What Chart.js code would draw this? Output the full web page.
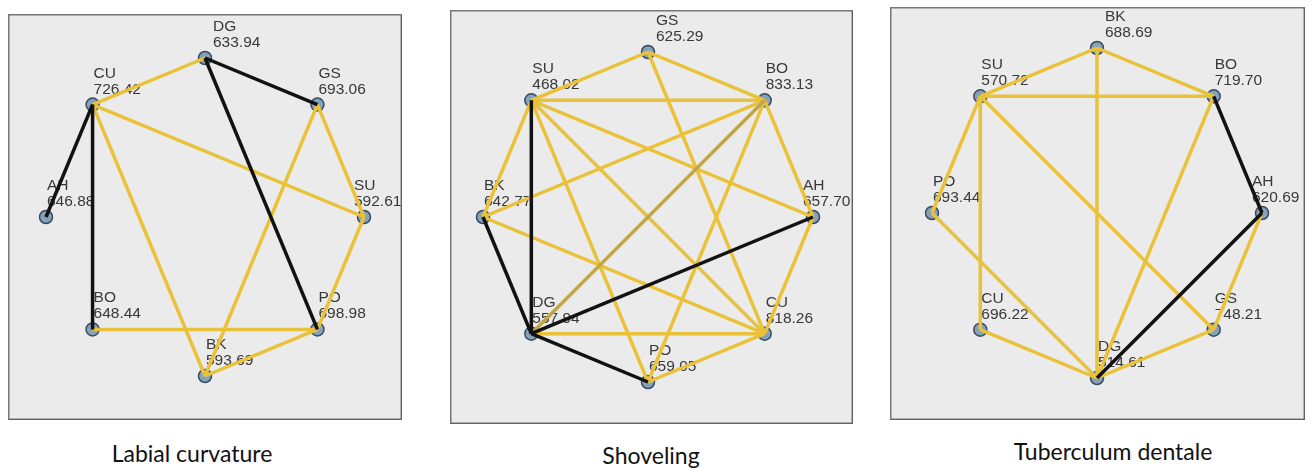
<!DOCTYPE html>
<html>
<head>
<meta charset="utf-8">
<title>Pairwise comparison networks</title>
<script src="https://cdn.jsdelivr.net/npm/chart.js@4.4.0/dist/chart.umd.min.js"></script>
<style>
  html, body { margin: 0; padding: 0; background: #ffffff; }
  body { width: 1316px; height: 468px; position: relative; overflow: hidden; }
  canvas { position: absolute; }
  .title {
    position: absolute;
    font-family: Lato, "Open Sans", sans-serif;
    font-size: 23px;
    line-height: 23px;
    color: #111111;
    white-space: nowrap;
    transform: translateX(-50%);
  }
</style>
</head>
<body>
<canvas id="labial" width="394" height="406" style="left:8px;top:14px"></canvas>
<canvas id="shoveling" width="403" height="414" style="left:450px;top:10px"></canvas>
<canvas id="tuberculum" width="415" height="413" style="left:890px;top:7px"></canvas>

<div class="title" style="left:192px;top:442px">Labial curvature</div>
<div class="title" style="left:651px;top:444px">Shoveling</div>
<div class="title" style="left:1113px;top:440px">Tuberculum dentale</div>

<script>
// ---- Labial curvature: groups clockwise from the top, mean ranks ----
const labialGroups = ['DG', 'GS', 'SU', 'PO', 'BK', 'BO', 'AH', 'CU'];
const labialRanks  = [633.94, 693.06, 592.61, 698.98, 593.69, 648.44, 646.88, 726.42];
const labialGold   = [['CU','DG'], ['CU','SU'], ['CU','BK'], ['GS','SU'], ['GS','BK'],
                      ['SU','PO'], ['BO','PO'], ['PO','BK']];
const labialBlack  = [['DG','GS'], ['DG','PO'], ['CU','AH'], ['CU','BO']];
const labialOlive  = [];

// ---- Shoveling ----
const shovelingGroups = ['GS', 'BO', 'AH', 'CU', 'PO', 'DG', 'BK', 'SU'];
const shovelingRanks  = [625.29, 833.13, 657.70, 818.26, 659.05, 557.94, 642.77, 468.02];
const shovelingGold   = [['SU','GS'], ['GS','BO'], ['GS','CU'], ['SU','BO'], ['SU','BK'],
                         ['SU','PO'], ['SU','CU'], ['SU','AH'], ['BO','AH'], ['BO','BK'],
                         ['BO','PO'], ['AH','CU'], ['CU','DG'], ['CU','PO'], ['CU','BK']];
const shovelingBlack  = [['SU','DG'], ['AH','DG'], ['BK','DG'], ['DG','PO']];
const shovelingOlive  = [['BO','DG']];

// ---- Tuberculum dentale ----
const tuberculumGroups = ['BK', 'BO', 'AH', 'GS', 'DG', 'CU', 'PO', 'SU'];
const tuberculumRanks  = [688.69, 719.70, 620.69, 748.21, 514.61, 696.22, 693.44, 570.72];
const tuberculumGold   = [['SU','BK'], ['BK','BO'], ['BK','DG'], ['SU','BO'], ['SU','PO'],
                          ['SU','CU'], ['SU','GS'], ['BO','DG'], ['AH','GS'], ['GS','DG'],
                          ['CU','DG'], ['PO','DG']];
const tuberculumBlack  = [['BO','AH'], ['AH','DG']];
const tuberculumOlive  = [];

const GOLD = '#e9c23a';
const BLACK = '#121212';
const OLIVE = '#c0a64a';

// Circular layout: slot k sits at 45*k degrees clockwise from the top, on a unit circle.
function slotPoint(k, n) {
  const a = (2 * Math.PI * k) / n;
  return { x: Math.sin(a), y: Math.cos(a) };
}

// Panel background, frame and node captions (drawn beneath the links).
const panelPlugin = {
  id: 'panel',
  beforeDraw(chart) {
    const ctx = chart.ctx;
    const w = chart.width, h = chart.height;
    ctx.save();
    ctx.fillStyle = '#ebebeb';
    ctx.fillRect(0, 0, w, h);
    ctx.strokeStyle = '#767676';
    ctx.lineWidth = 1.5;
    ctx.strokeRect(0.75, 0.75, w - 1.5, h - 1.5);
    ctx.strokeStyle = 'rgba(60,60,60,0.35)';
    ctx.lineWidth = 1;
    ctx.beginPath();
    ctx.moveTo(w - 0.5, 1); ctx.lineTo(w - 0.5, h - 0.5); ctx.lineTo(1, h - 0.5);
    ctx.stroke();
    ctx.restore();
  },
  beforeDatasetsDraw(chart, args, opts) {
    const ctx = chart.ctx;
    const xs = chart.scales.x, ys = chart.scales.y;
    const n = opts.groups.length;
    ctx.save();
    ctx.font = '15.5px "Liberation Sans", Arial, sans-serif';
    ctx.fillStyle = '#383838';
    ctx.textAlign = 'left';
    ctx.textBaseline = 'alphabetic';
    opts.groups.forEach((g, k) => {
      const p = slotPoint(k, n);
      const px = xs.getPixelForValue(p.x);
      const py = ys.getPixelForValue(p.y);
      const dx = k === 0 ? 8 : (k === 2 ? -10 : 1);
      ctx.fillText(g, px + dx, py - 27);
      ctx.fillText(opts.ranks[k].toFixed(2), px + dx, py - 11);
    });
    ctx.restore();
  }
};

function buildNetwork(id, groups, ranks, gold, black, olive, geom) {
  const canvas = document.getElementById(id);
  const W = canvas.width, H = canvas.height;
  const n = groups.length;
  const pos = {};
  groups.forEach((g, k) => { pos[g] = slotPoint(k, n); });

  const linkSet = (pairs, color) => pairs.map(([a, b]) => ({
    data: [pos[a], pos[b]],
    showLine: true,
    borderColor: color,
    borderWidth: 3.5,
    pointRadius: 0,
    pointHoverRadius: 0,
    fill: false
  }));

  // Black links on top, then olive, then gold; nodes underneath all links.
  const datasets = [
    ...linkSet(black, BLACK),
    ...linkSet(olive, OLIVE),
    ...linkSet(gold, GOLD),
    {
      data: groups.map((g) => pos[g]),
      showLine: false,
      pointRadius: 6.5,
      pointHoverRadius: 6.5,
      pointBackgroundColor: '#84a2b9',
      pointBorderColor: '#3a4a5c',
      pointBorderWidth: 1.5
    }
  ];

  const ox = geom.cx - geom.left, oy = geom.cy - geom.top, r = geom.r;
  new Chart(canvas, {
    type: 'scatter',
    data: { datasets },
    options: {
      responsive: false,
      animation: false,
      layout: { padding: 0, autoPadding: false },
      scales: {
        x: { type: 'linear', display: false, min: -ox / r, max: (W - ox) / r },
        y: { type: 'linear', display: false, min: (oy - H) / r, max: oy / r }
      },
      plugins: {
        legend: { display: false },
        tooltip: { enabled: false },
        panel: { groups, ranks }
      }
    },
    plugins: [panelPlugin]
  });
}

buildNetwork('labial', labialGroups, labialRanks, labialGold, labialBlack, labialOlive,
  { left: 8, top: 14, cx: 205, cy: 217, r: 159 });
buildNetwork('shoveling', shovelingGroups, shovelingRanks, shovelingGold, shovelingBlack, shovelingOlive,
  { left: 450, top: 10, cx: 648, cy: 217, r: 165 });
buildNetwork('tuberculum', tuberculumGroups, tuberculumRanks, tuberculumGold, tuberculumBlack, tuberculumOlive,
  { left: 890, top: 7, cx: 1097, cy: 213, r: 165 });
</script>
</body>
</html>
